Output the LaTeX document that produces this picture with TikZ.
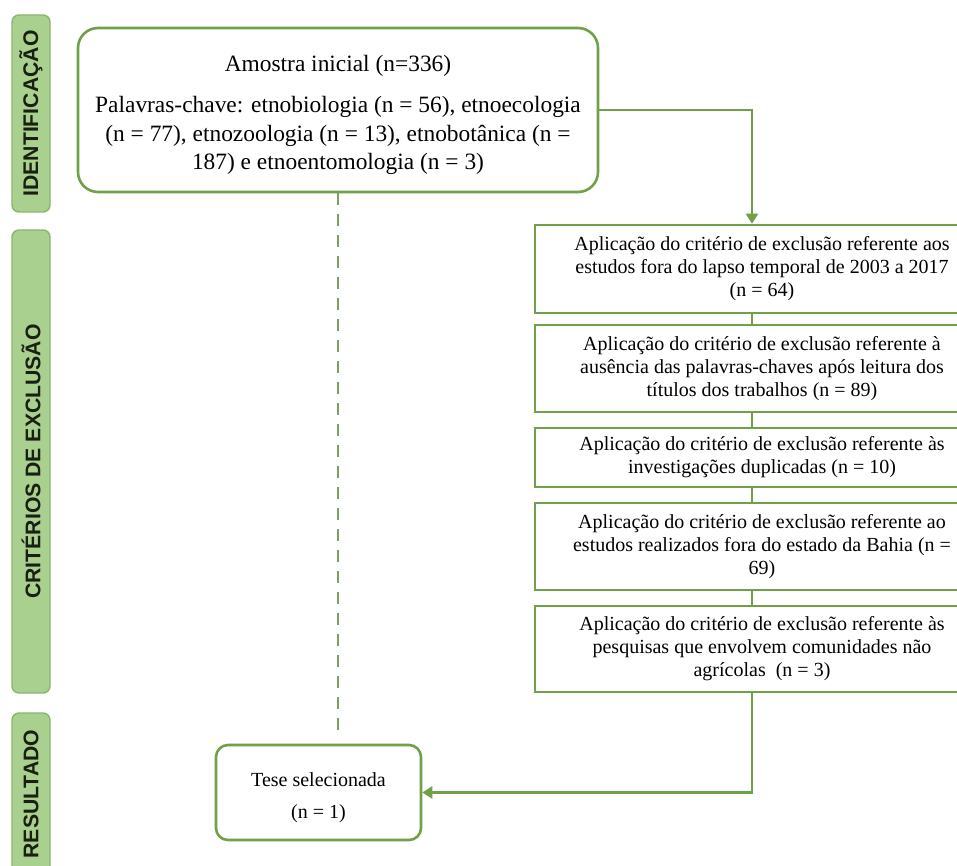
\documentclass[tikz,border=0pt]{standalone}
\usepackage{fontspec}
\setmainfont{Liberation Serif}
\newfontfamily\barfont{Liberation Sans}
\usetikzlibrary{arrows.meta, positioning, calc}
\definecolor{leaf}{RGB}{112,160,72}
\definecolor{dashleaf}{RGB}{128,158,100}
\definecolor{barfill}{RGB}{169,208,142}
\definecolor{barline}{RGB}{140,180,110}
\definecolor{bartext}{RGB}{25,32,18}

\begin{document}
\begin{tikzpicture}[x=0.5pt, y=-0.5pt,
  stage/.style={draw=barline, fill=barfill, rounded corners=3.5pt, line width=0.7pt, rotate=90,
    minimum height=19pt, inner sep=0pt, text=bartext, font=\barfont\bfseries\fontsize{10.6}{12}\selectfont},
  roundbox/.style={draw=leaf, line width=1.3pt, fill=white, align=center, inner sep=0pt},
  sqbox/.style={draw=leaf, line width=1.3pt, fill=white, align=center, inner sep=0pt,
    minimum width=227pt, font=\fontsize{10}{11.5}\selectfont},
  link/.style={leaf, line width=1.3pt},
  arr/.style={link, -{Triangle[length=5pt, width=6pt]}}]
  \clip (0,0) rectangle (957,866);
  \fill[white] (0,0) rectangle (957,866);
  % Stage bars
  \node[stage, minimum width=98.5pt] (ident) at (31,113.5) {IDENTIFICAÇÃO};
  \node[stage, minimum width=231.5pt] (crit) at (31,461.5) {CRITÉRIOS DE EXCLUSÃO};
  \node[stage, minimum width=81pt] (result) at (31,794) {RESULTADO};
  % Initial sample
  \node[roundbox, rounded corners=10pt, minimum width=260pt, minimum height=82pt,
    font=\fontsize{11.7}{14.2}\selectfont] (sample) at (338,110)
    {\mbox{}\\[-1.1pt]
     Amostra inicial (n=336)\\[6.5pt]
     Palavras-chave: etnobiologia (n = 56), etnoecologia\\
     (n = 77), etnozoologia (n = 13), etnobotânica (n =\\
     187) e etnoentomologia (n = 3)};
  % Exclusion criteria
  \node[sqbox, minimum height=44pt] (crit1) at (762,269)
    {Aplicação do critério de exclusão referente aos\\
     estudos fora do lapso temporal de 2003 a 2017\\ (n = 64)};
  \node[sqbox, minimum height=43.5pt] (crit2) at (762,368.5)
    {Aplicação do critério de exclusão referente à\\
     ausência das palavras-chaves após leitura dos\\ títulos dos trabalhos (n = 89)};
  \node[sqbox, minimum height=29.5pt] (crit3) at (762,457.5)
    {Aplicação do critério de exclusão referente às\\
     investigações duplicadas (n = 10)};
  \node[sqbox, minimum height=43.5pt] (crit4) at (762,546.5)
    {Aplicação do critério de exclusão referente ao\\
     estudos realizados fora do estado da Bahia (n =\\ 69)};
  \node[sqbox, minimum height=43pt] (crit5) at (762,649)
    {Aplicação do critério de exclusão referente às\\
     pesquisas que envolvem comunidades não\\ agrícolas~ (n = 3)};
  % Result
  \node[roundbox, rounded corners=6pt, minimum width=102.5pt, minimum height=47.5pt,
    font=\fontsize{10}{16}\selectfont] (thesis) at (318.5,792.5)
    {\mbox{}\\[-3.7pt]
     Tese selecionada\\ (n = 1)};
  % Connectors
  \coordinate (spine) at (752,0);
  \draw[arr] (sample.east) -| (crit1.north -| spine);
  \draw[link] (crit1.south -| spine) -- (crit2.north -| spine);
  \draw[link] (crit2.south -| spine) -- (crit3.north -| spine);
  \draw[link] (crit3.south -| spine) -- (crit4.north -| spine);
  \draw[link] (crit4.south -| spine) -- (crit5.north -| spine);
  \draw[arr] (crit5.south -| spine) |- (thesis.east);
  \draw[dashleaf, line width=1.1pt, dash pattern=on 6pt off 4.5pt, shorten >=4pt]
    (sample.south) -- (sample.south |- thesis.north);
\end{tikzpicture}
\end{document}
